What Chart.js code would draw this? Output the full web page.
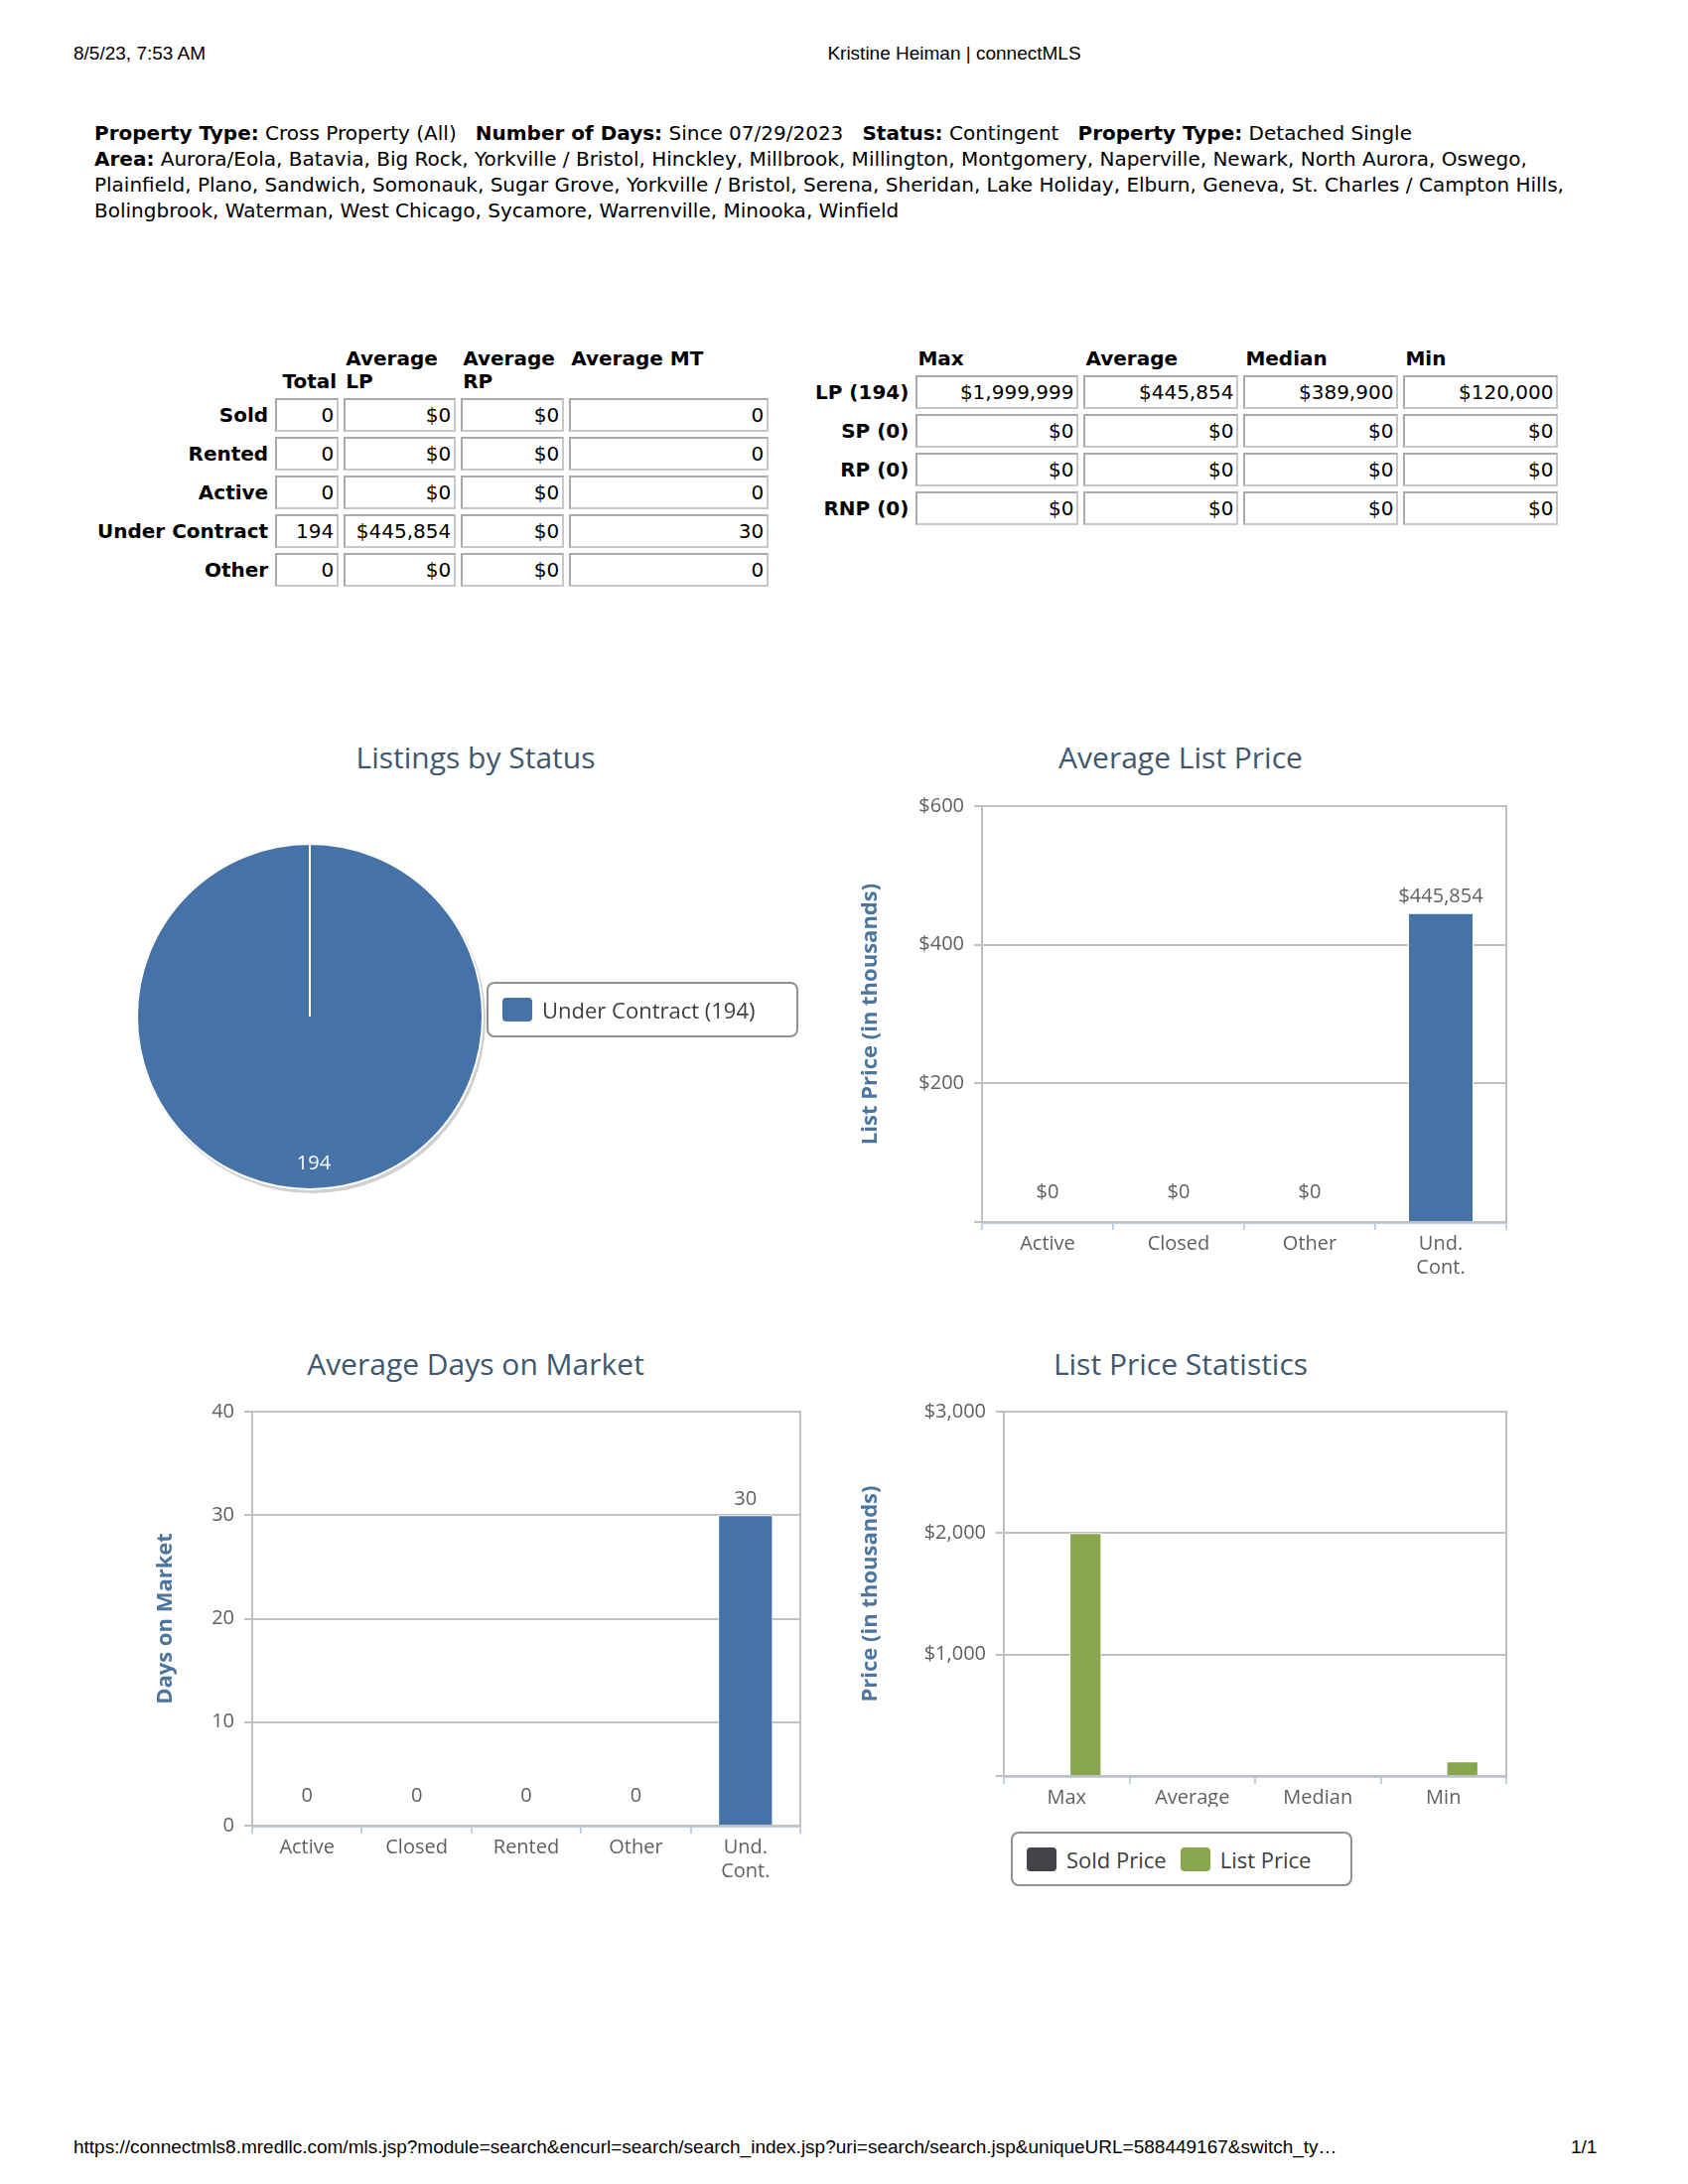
<!DOCTYPE html>
<html><head><meta charset="utf-8">
<script src="https://cdn.jsdelivr.net/npm/chart.js@4.4.0/dist/chart.umd.min.js"></script>
<style>
body{margin:0;width:1700px;height:2200px;position:relative;background:#fff;font-family:"DejaVu Sans",sans-serif;color:#000}
.abs{position:absolute}
.hdr{font-family:"Liberation Sans",Arial,sans-serif;font-size:19px}
#filters{left:95px;top:121px;width:1530px;font-size:20px;line-height:26px}
table{border-collapse:separate;border-spacing:5px;font-size:20px}
td.c{border:2px solid #c8c8c8;border-top-color:#aaa;border-left-color:#aaa;text-align:right;padding:2px 3px;height:26px}
th{font-weight:bold;text-align:left;vertical-align:bottom;padding:0 2px;line-height:23px}
td.l{font-weight:bold;text-align:right;padding-right:2px}
.ct{font-family:"Open Sans",sans-serif;font-size:30px;color:#3e576f;text-align:center;width:700px}
canvas{position:absolute}
.legend{position:absolute;border:2px solid #909090;border-radius:8px;font-family:"Open Sans",sans-serif;font-size:22px;color:#3e3e3e;display:flex;align-items:center;box-sizing:border-box}
.sw{display:inline-block;width:30px;height:24px;border-radius:4px;margin:0 10px 0 14px}
</style></head><body>
<div class="abs hdr" style="left:74px;top:43px">8/5/23, 7:53 AM</div>
<div class="abs hdr" style="left:0;width:1922px;text-align:center;top:43px">Kristine Heiman | connectMLS</div>
<div class="abs" id="filters"><b>Property Type:</b> Cross Property (All)&nbsp;&nbsp; <b>Number of Days:</b> Since 07/29/2023&nbsp;&nbsp; <b>Status:</b> Contingent&nbsp;&nbsp; <b>Property Type:</b> Detached Single<br><b>Area:</b> Aurora/Eola, Batavia, Big Rock, Yorkville / Bristol, Hinckley, Millbrook, Millington, Montgomery, Naperville, Newark, North Aurora, Oswego, Plainfield, Plano, Sandwich, Somonauk, Sugar Grove, Yorkville / Bristol, Serena, Sheridan, Lake Holiday, Elburn, Geneva, St. Charles / Campton Hills, Bolingbrook, Waterman, West Chicago, Sycamore, Warrenville, Minooka, Winfield</div>

<table class="abs" id="t1" style="left:92px;top:345px"></table>
<table class="abs" id="t2" style="left:815px;top:345px"></table>

<div class="abs ct" style="left:129px;top:742px">Listings by Status</div>
<div class="abs ct" style="left:839px;top:742px">Average List Price</div>
<div class="abs ct" style="left:129px;top:1353px">Average Days on Market</div>
<div class="abs ct" style="left:839px;top:1353px">List Price Statistics</div>

<canvas id="c1" style="left:133px;top:845px;width:358px;height:358px" width="358" height="358"></canvas>
<div class="legend" style="left:490px;top:989px;width:314px;height:56px"><span class="sw" style="background:#4572a7"></span>Under Contract (194)</div>
<canvas id="c2" style="left:860px;top:790px;width:700px;height:520px" width="700" height="520"></canvas>
<canvas id="c3" style="left:150px;top:1400px;width:680px;height:520px" width="680" height="520"></canvas>
<canvas id="c4" style="left:860px;top:1400px;width:700px;height:420px" width="700" height="420"></canvas>
<div class="legend" style="left:1018px;top:1845px;width:344px;height:55px"><span class="sw" style="background:#434348;margin-left:14px"></span>Sold Price<span class="sw" style="background:#89a54e"></span>List Price</div>

<div class="abs hdr" style="left:74px;top:2152px">https://connectmls8.mredllc.com/mls.jsp?module=search&amp;encurl=search/search_index.jsp?uri=search/search.jsp&amp;uniqueURL=588449167&amp;switch_ty…</div>
<div class="abs hdr" style="left:1582px;top:2152px">1/1</div>

<script>
// ---- data ----
const statusRows = ["Sold","Rented","Active","Under Contract","Other"];
const statusTotal = ["0","0","0","194","0"];
const statusAvgLP = ["$0","$0","$0","$445,854","$0"];
const statusAvgRP = ["$0","$0","$0","$0","$0"];
const statusAvgMT = ["0","0","0","30","0"];
const statRows = ["LP (194)","SP (0)","RP (0)","RNP (0)"];
const statCols = ["Max","Average","Median","Min"];
const statValues = [["$1,999,999","$445,854","$389,900","$120,000"],["$0","$0","$0","$0"],["$0","$0","$0","$0"],["$0","$0","$0","$0"]];

const pieLabels = ["Under Contract"];
const pieValues = [194];

const lpCats = ["Active","Closed","Other",["Und.","Cont."]];
const lpValues = [0,0,0,445.854];
const lpLabels = ["$0","$0","$0","$445,854"];
const lpTicks = [0,200,400,600];

const domCats = ["Active","Closed","Rented","Other",["Und.","Cont."]];
const domValues = [0,0,0,0,30];

const lpsCats = ["Max","Average","Median","Min"];
const soldPrice = [0,0,0,0];
const listPrice = [1999.999,0,0,120];

// ---- tables ----
let h = '<tr><th></th><th style="text-align:right">Total</th><th>Average<br>LP</th><th>Average<br>RP</th><th>Average MT<br>&nbsp;</th></tr>';
statusRows.forEach((r,i)=>{h+=`<tr><td class="l">${r}</td><td class="c" style="width:54px">${statusTotal[i]}</td><td class="c" style="width:103px">${statusAvgLP[i]}</td><td class="c" style="width:94px">${statusAvgRP[i]}</td><td class="c" style="width:191px">${statusAvgMT[i]}</td></tr>`;});
document.getElementById('t1').innerHTML=h;
h='<tr><th></th>'+statCols.map(c=>`<th>${c}</th>`).join('')+'</tr>';
statRows.forEach((r,i)=>{h+=`<tr><td class="l">${r}</td>`+statValues[i].map((v,j)=>`<td class="c" style="width:${j==0?154:146}px">${v}</td>`).join('')+'</tr>';});
document.getElementById('t2').innerHTML=h;

// ---- charts ----
Chart.defaults.font.family='"Open Sans", sans-serif';
Chart.defaults.color='#606060';
Chart.defaults.animation=false;
const BLUE='#4572a7', GREEN='#89a54e';

const frame={id:'frame',afterDatasetsDraw(c){const a=c.chartArea,x=c.ctx;x.save();x.strokeStyle='#c0c0c0';x.lineWidth=2;x.strokeRect(a.left,a.top,a.right-a.left,a.bottom-a.top);x.restore();}};
function labelPlugin(texts){return {id:'lbl',afterDatasetsDraw(c){const x=c.ctx;x.save();x.font='20px "Open Sans"';x.fillStyle='#606060';x.textAlign='center';x.textBaseline='bottom';
  c.getDatasetMeta(0).data.forEach((b,i)=>{const y=Math.min(b.y,c.chartArea.bottom-14);x.fillText(texts[i],b.x,y-6);});x.restore();}};}
function xScale(hgt){return {grid:{drawOnChartArea:false,offset:true,color:'#c0d0e0',tickLength:8,lineWidth:2},border:{color:'#c0d0e0',width:3},ticks:{font:{size:20},color:'#606060',padding:2},afterFit(s){s.height=hgt;}};}
function yScale(w,max,step,title,cb){return {min:0,max:max,afterBuildTicks(s){s.ticks=[];for(let v=0;v<=max;v+=step)s.ticks.push({value:v});},grid:{color:'#c0c0c0',lineWidth:2},border:{display:false},
  ticks:{font:{size:20},color:'#606060',padding:10,callback:cb},title:{display:true,text:title,color:'#4d759e',font:{size:22,weight:'bold'}},afterFit(s){s.width=w;}};}

new Chart('c1',{type:'pie',data:{labels:pieLabels,datasets:[{data:pieValues,backgroundColor:BLUE,borderColor:'#fff',borderWidth:2}]},
 options:{responsive:false,layout:{padding:4},plugins:{legend:{display:false},tooltip:{enabled:false}}},
 plugins:[{id:'pl',beforeDatasetsDraw(c){const m=c.getDatasetMeta(0).data[0],x=c.ctx;x.save();x.beginPath();x.arc(m.x+2,m.y+3,m.outerRadius+1,0,Math.PI*2);x.fillStyle='#d0d0d0';x.fill();x.restore();},
  afterDatasetsDraw(c){const m=c.getDatasetMeta(0).data[0],x=c.ctx;x.save();x.font='20px "Open Sans"';x.fillStyle='#fff';x.textAlign='center';x.fillText(String(pieValues[0]),m.x+4,m.y+m.outerRadius-20);x.restore();}}]});

new Chart('c2',{type:'bar',data:{labels:lpCats,datasets:[{data:lpValues,backgroundColor:BLUE,borderColor:'#fff',borderWidth:1,barPercentage:0.5,categoryPercentage:1}]},
 options:{responsive:false,layout:{padding:{top:14,right:43,left:0,bottom:0}},plugins:{legend:{display:false},tooltip:{enabled:false}},
 scales:{x:xScale(79),y:yScale(129,600,200,'List Price (in thousands)',v=>v===0?'':'$'+v)}},plugins:[frame,labelPlugin(lpLabels)]});

new Chart('c3',{type:'bar',data:{labels:domCats,datasets:[{data:domValues,backgroundColor:BLUE,borderColor:'#fff',borderWidth:1,barPercentage:0.5,categoryPercentage:1}]},
 options:{responsive:false,layout:{padding:{top:15,right:24,left:0,bottom:0}},plugins:{legend:{display:false},tooltip:{enabled:false}},
 scales:{x:xScale(81),y:yScale(104,40,10,'Days on Market',v=>String(v))}},plugins:[frame,labelPlugin(domValues.map(String))]});

new Chart('c4',{type:'bar',data:{labels:lpsCats,datasets:[{label:'Sold Price',data:soldPrice,backgroundColor:'#434348',borderColor:'#fff',borderWidth:1},{label:'List Price',data:listPrice,backgroundColor:GREEN,borderColor:'#fff',borderWidth:1}].map(d=>Object.assign(d,{barPercentage:0.85,categoryPercentage:0.6}))},
 options:{responsive:false,layout:{padding:{top:15,right:43,left:0,bottom:0}},plugins:{legend:{display:false},tooltip:{enabled:false}},
 scales:{x:xScale(31),y:yScale(151,3000,1000,'Price (in thousands)',v=>v===0?'':'$'+v.toLocaleString('en-US'))}},plugins:[frame]});
</script>
</body></html>
